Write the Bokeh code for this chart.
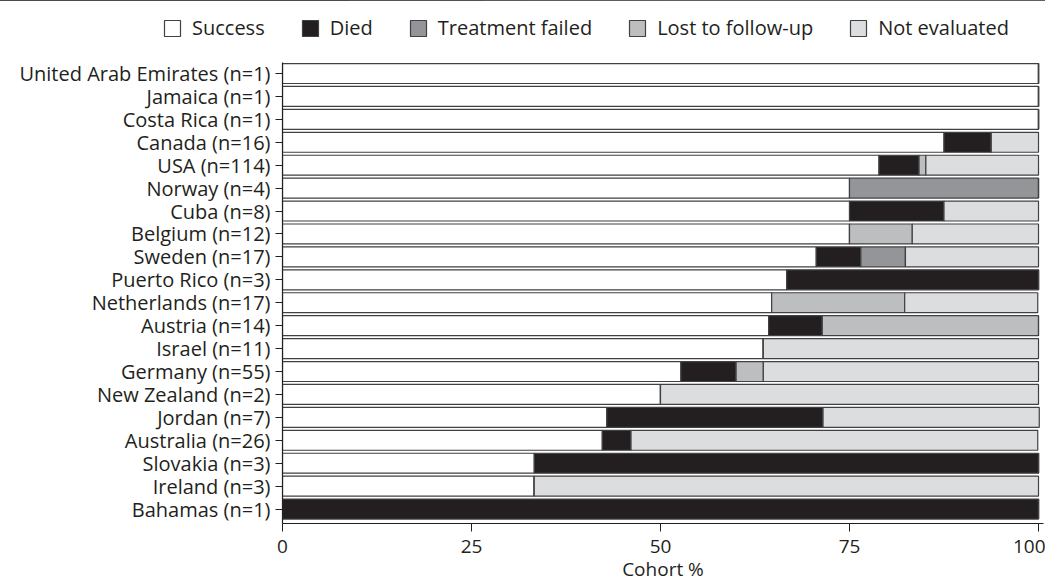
from bokeh.plotting import figure
from bokeh.models import ColumnDataSource, Range1d, FixedTicker, Legend, LegendItem
from bokeh.layouts import column
from bokeh.embed import file_html
from bokeh.resources import INLINE

countries = ["United Arab Emirates (n=1)", "Jamaica (n=1)", "Costa Rica (n=1)", "Canada (n=16)",
             "USA (n=114)", "Norway (n=4)", "Cuba (n=8)", "Belgium (n=12)", "Sweden (n=17)",
             "Puerto Rico (n=3)", "Netherlands (n=17)", "Austria (n=14)", "Israel (n=11)",
             "Germany (n=55)", "New Zealand (n=2)", "Jordan (n=7)", "Australia (n=26)",
             "Slovakia (n=3)", "Ireland (n=3)", "Bahamas (n=1)"]

success = [100, 100, 100, 87.5, 78.9, 75, 75, 75, 70.6, 66.7, 64.7, 64.3, 63.6, 52.7, 50, 42.9, 42.3, 33.3, 33.3, 0]
died = [0, 0, 0, 6.25, 5.3, 0, 12.5, 0, 5.9, 33.3, 0, 7.1, 0, 7.3, 0, 28.6, 3.8, 66.7, 0, 100]
treatment_failed = [0, 0, 0, 0, 0, 25, 0, 0, 5.9, 0, 0, 0, 0, 0, 0, 0, 0, 0, 0, 0]
lost = [0, 0, 0, 0, 0.9, 0, 0, 8.3, 0, 0, 17.6, 28.6, 0, 3.6, 0, 0, 0, 0, 0, 0]
not_evaluated = [0, 0, 0, 6.25, 14.9, 0, 12.5, 16.7, 17.6, 0, 17.6, 0, 36.4, 36.4, 50, 28.6, 53.8, 0, 66.7, 0]

series = ["Success", "Died", "Treatment failed", "Lost to follow-up", "Not evaluated"]
colors = ["#ffffff", "#231f20", "#939598", "#bcbec0", "#dcddde"]
x_ticks = [0, 25, 50, 75, 100]

n = len(countries)
ypos = [n - 1 - i for i in range(n)]

src = ColumnDataSource(dict(y=ypos, s0=success, s1=died, s2=treatment_failed, s3=lost, s4=not_evaluated))
keys = ["s0", "s1", "s2", "s3", "s4"]

FONT = "Open Sans"
EDGE = "#414042"
W = 1045
LEG_H = 44

# ---- legend strip (same stacked series, y window kept off the data so only the legend shows) ----
leg = figure(width=W, height=LEG_H, output_backend="svg", toolbar_location=None,
             x_range=Range1d(0, 100), y_range=Range1d(-100, -99),
             min_border_left=0, min_border_right=0, min_border_top=0, min_border_bottom=0)
leg.frame_align = False
leg.axis.visible = False
leg.grid.visible = False
leg.outline_line_color = None
leg_renderers = leg.hbar_stack(keys, y="y", height=0.87, color=colors, source=src,
                               line_color=EDGE, line_width=1.2)
leg_items = [LegendItem(label=s, renderers=[r]) for s, r in zip(series, leg_renderers)]
legend = Legend(items=leg_items, orientation="horizontal", location=(162, 3),
                glyph_width=20, glyph_height=20, label_standoff=10, spacing=35,
                padding=0, margin=0, border_line_color=None, background_fill_alpha=0,
                label_text_font=FONT, label_text_font_size="20px", label_text_color="#231f20",
                label_height=20)
leg.add_layout(legend, "center")

# ---- main chart ----
p = figure(width=W, height=542, output_backend="svg", toolbar_location=None,
           x_range=Range1d(0, 100.66), y_range=Range1d(-0.63, n - 1 + 0.48),
           min_border_left=282, min_border_right=2, min_border_top=62 - LEG_H, min_border_bottom=63)
p.frame_align = False

p.hbar_stack(keys, y="y", height=0.87, color=colors, source=src,
             line_color=EDGE, line_width=1.2)

p.outline_line_color = None
p.xgrid.visible = False
p.ygrid.visible = False

p.xaxis.ticker = FixedTicker(ticks=x_ticks)
p.xaxis.axis_label = "Cohort %"
p.yaxis.ticker = FixedTicker(ticks=ypos)
p.yaxis.major_label_overrides = {y: c for y, c in zip(ypos, countries)}

for ax in (p.xaxis[0], p.yaxis[0]):
    ax.major_label_text_font = FONT
    ax.major_label_text_color = "#231f20"
    ax.axis_line_color = "#231f20"
    ax.major_tick_line_color = "#231f20"
    ax.minor_tick_line_color = None
    ax.major_tick_in = 0
    ax.axis_line_width = 1.2
p.yaxis.major_label_text_font_size = "20px"
p.xaxis.major_label_text_font_size = "19px"
p.yaxis.major_tick_out = 7
p.xaxis.major_tick_out = 8
p.yaxis.major_label_standoff = 5
p.xaxis.major_label_standoff = 8
p.xaxis.axis_label_text_font = FONT
p.xaxis.axis_label_text_font_size = "19px"
p.xaxis.axis_label_text_font_style = "normal"
p.xaxis.axis_label_text_color = "#231f20"
p.xaxis.axis_label_standoff = 0

open("out.html", "w").write(file_html(column(leg, p, spacing=0), INLINE))
